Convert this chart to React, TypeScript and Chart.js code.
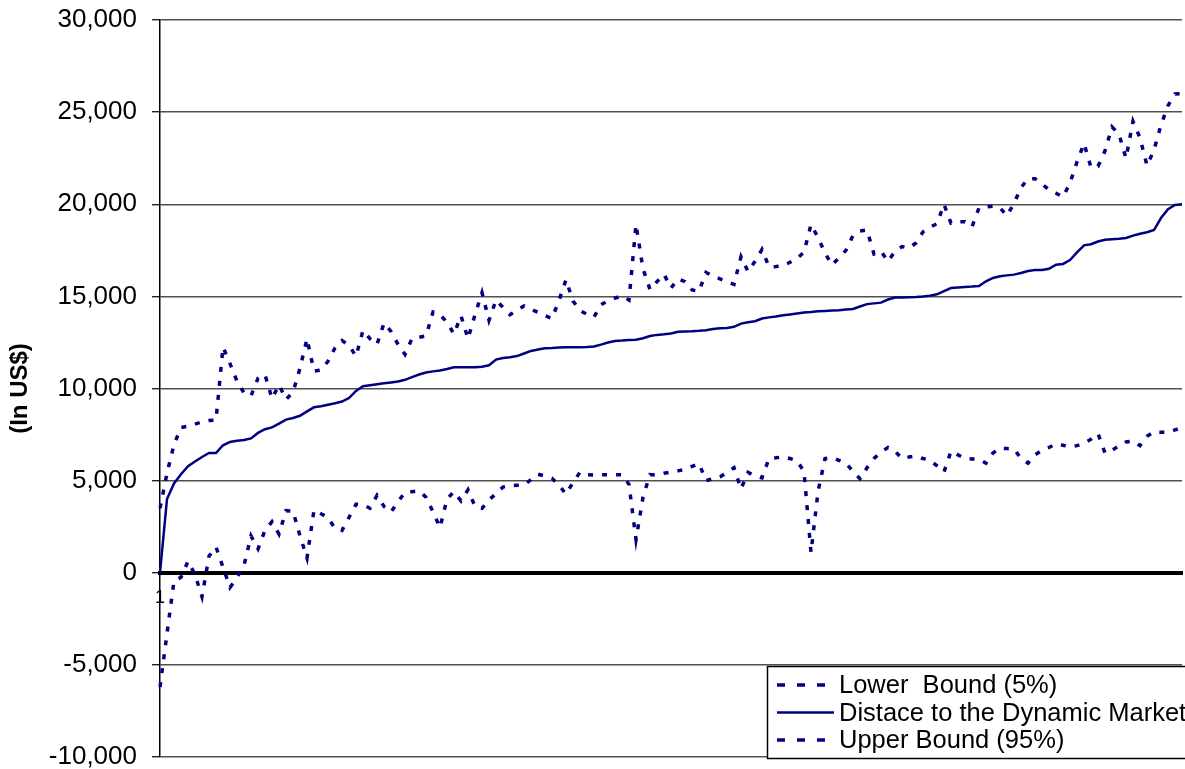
import React, { useEffect, useRef } from "react";
import { Chart, registerables } from "chart.js";

Chart.register(...registerables);

const FONT = '"Liberation Sans", Arial, Helvetica, sans-serif';
const NAVY = "#000080";

const seriesLabels = ["Lower  Bound (5%)", "Distace to the Dynamic Market", "Upper Bound (95%)"];
const yAxisTitle = "(In US$)";
const yMin = -10000;
const yMax = 30000;
const yStep = 5000;

const lowerBound = [
  -6200, -3300, -450, -250, 620, -100, -1300, 900, 1400, 300,
  -800, -250, 400, 2000, 1300, 2300, 2770, 2100, 3370, 3350,
  2000, 800, 3400, 3200, 3000, 2400, 2300, 3000, 3720, 3700,
  3500, 4200, 3600, 3300, 3850, 4370, 4400, 4440, 4100, 3300,
  2450, 4000, 4400, 3900, 4500, 3600, 3500, 3950, 4300, 4650,
  4730, 4750, 4760, 5050, 5350, 5250, 5130, 4750, 4270, 4900,
  5450, 5320, 5300, 5320, 5320, 5320, 5320, 4800, 1800, 4100,
  5330, 5300, 5400, 5460, 5530, 5600, 5770, 5930, 5000, 5100,
  5200, 5450, 5700, 4550, 5450, 5250, 5150, 6200, 6240, 6290,
  6200, 6080, 5500, 1100, 4400, 6200, 6250, 6100, 5950, 5500,
  5100, 5700, 6200, 6550, 6800, 6600, 6200, 6280, 6340, 6200,
  6110, 5800, 5470, 6600, 6400, 6200, 6180, 6150, 5950, 6500,
  6760, 6740, 6720, 6200, 5950, 6400, 6650, 6800, 6990, 6920,
  6830, 6900, 7030, 7250, 7550, 6500, 6650, 6880, 7100, 7150,
  6900, 7400, 7650, 7620, 7620, 7750, 7880,
];

const distance = [
  0, 4000, 4850, 5350, 5780, 6040, 6280, 6500, 6500, 6920,
  7100, 7160, 7210, 7290, 7590, 7790, 7890, 8090, 8310, 8400,
  8520, 8760, 8980, 9040, 9120, 9200, 9290, 9480, 9870, 10120,
  10180, 10230, 10280, 10330, 10380, 10470, 10620, 10760, 10870, 10930,
  10980, 11060, 11150, 11150, 11150, 11150, 11180, 11260, 11570, 11650,
  11700, 11760, 11900, 12040, 12120, 12180, 12200, 12230, 12235, 12240,
  12245, 12250, 12280, 12380, 12500, 12580, 12600, 12630, 12650, 12730,
  12850, 12910, 12940, 12990, 13080, 13100, 13110, 13130, 13160, 13230,
  13270, 13290, 13350, 13520, 13600, 13650, 13800, 13860, 13910, 13970,
  14020, 14070, 14120, 14150, 14190, 14210, 14230, 14250, 14290, 14320,
  14450, 14580, 14620, 14660, 14830, 14935, 14945, 14955, 14965, 14990,
  15040, 15110, 15290, 15450, 15480, 15510, 15530, 15560, 15820, 16000,
  16090, 16140, 16180, 16270, 16380, 16430, 16430, 16500, 16720, 16760,
  16970, 17390, 17770, 17830, 17980, 18070, 18100, 18130, 18170, 18300,
  18400, 18480, 18600, 19250, 19730, 19960, 20000,
];

const upperBound = [
  3500, 5400, 6950, 7880, 7950, 8070, 8180, 8260, 8280, 12250,
  11350, 10400, 9750, 9600, 10550, 10750, 9450, 10200, 9400, 9800,
  11100, 12700, 10950, 11000, 11480, 12200, 12600, 12350, 11750, 13150,
  12700, 12390, 13550, 13100, 12400, 11850, 12720, 12780, 12850, 14150,
  14000, 13600, 12950, 13950, 12700, 14000, 15200, 13700, 14800, 14400,
  14000, 14250, 14480, 14300, 14130, 13950, 13800, 14780, 15900, 14750,
  14220, 14030, 13880, 14550, 14750, 14900, 15030, 14800, 18900, 16500,
  15370, 15800, 16200, 15450, 15950, 15800, 15350, 15270, 16300, 16100,
  15950, 15800, 15650, 17150, 16350, 16900, 17550, 16600, 16620, 16650,
  16850, 17050, 17400, 18900, 18200, 17350, 16700, 17100, 17500, 18300,
  18550, 18600, 17300, 17450, 16900, 17450, 17700, 17620, 17900, 18500,
  18750, 18950, 20000, 18970, 19050, 19050, 18780, 19800, 19850, 19900,
  19800, 19380, 20050, 20900, 21390, 21390, 21100, 20780, 20600, 20400,
  21150, 22300, 23300, 22000, 22050, 22900, 24200, 23800, 22500, 24500,
  23600, 22100, 22950, 24300, 25350, 25980, 26000,
];

const categories = distance.map((_, i) => String(i + 1));
const shownCategory = "1";

const boxLegend = {
  id: "boxLegend",
  afterDraw(chart: any) {
    const ctx = chart.ctx as CanvasRenderingContext2D;
    const x0 = 767;
    const y0 = 666;
    const w = 460;
    const h = 92;
    ctx.save();
    ctx.fillStyle = "#ffffff";
    ctx.fillRect(x0, y0, w, h);
    ctx.strokeStyle = "#000000";
    ctx.lineWidth = 1.5;
    ctx.strokeRect(x0 + 0.5, y0 + 0.5, w, h);
    chart.data.datasets.forEach((ds: any, i: number) => {
      const y = 685 + i * 27.5;
      ctx.beginPath();
      ctx.setLineDash(ds.borderDash ? [8, 12] : []);
      ctx.lineWidth = ds.borderWidth;
      ctx.strokeStyle = ds.borderColor;
      ctx.moveTo(777, y);
      ctx.lineTo(834, y);
      ctx.stroke();
      ctx.setLineDash([]);
      ctx.fillStyle = "#000000";
      ctx.font = `25.5px ${FONT}`;
      ctx.textBaseline = "middle";
      ctx.textAlign = "left";
      ctx.fillText(ds.label, 839, y + 1);
    });
    ctx.restore();
  },
};

export default function App() {
  const canvasRef = useRef<HTMLCanvasElement | null>(null);

  useEffect(() => {
    document.body.style.margin = "0";
    const canvas = canvasRef.current;
    if (!canvas) return;
    const dashed = [5, 9];
    const chart = new Chart(canvas, {
      type: "line",
      data: {
        labels: categories,
        datasets: [
          {
            label: seriesLabels[0],
            data: lowerBound,
            borderColor: NAVY,
            borderWidth: 3.5,
            borderDash: dashed,
            pointRadius: 0,
            tension: 0,
            fill: false,
          },
          {
            label: seriesLabels[1],
            data: distance,
            borderColor: NAVY,
            borderWidth: 2.5,
            pointRadius: 0,
            tension: 0,
            fill: false,
          },
          {
            label: seriesLabels[2],
            data: upperBound,
            borderColor: NAVY,
            borderWidth: 3.5,
            borderDash: dashed,
            pointRadius: 0,
            tension: 0,
            fill: false,
          },
        ],
      },
      options: {
        responsive: false,
        animation: false,
        events: [],
        layout: { padding: { top: 20, right: 3, bottom: 12, left: 0 } },
        plugins: {
          legend: { display: false },
          tooltip: { enabled: false },
          title: { display: false },
        },
        scales: {
          x: {
            type: "category",
            position: { y: 0 } as any,
            offset: false,
            grid: { display: false, drawTicks: false },
            border: { display: true, color: "#000000", width: 4 },
            ticks: {
              autoSkip: false,
              maxRotation: 0,
              minRotation: 0,
              padding: 14,
              color: "#000000",
              font: { family: FONT, size: 18 },
              callback: (_v: any, idx: number) => (idx === 0 ? shownCategory : ""),
            },
            afterFit: (scale: any) => {
              scale.paddingLeft = 0;
              scale.paddingRight = 0;
            },
          },
          y: {
            min: yMin,
            max: yMax,
            ticks: {
              stepSize: yStep,
              padding: 15,
              color: "#000000",
              font: { family: FONT, size: 26 },
              callback: (v: any) => Number(v).toLocaleString("en-US"),
            },
            grid: {
              color: "#505050",
              lineWidth: 1.4,
              tickLength: 8,
              tickColor: "#222222",
            },
            border: { display: true, color: "#000000", width: 1.5 },
            title: {
              display: true,
              text: yAxisTitle,
              color: "#000000",
              font: { family: FONT, size: 24, weight: "bold" },
              padding: { top: 6, bottom: 0 },
            },
            afterFit: (scale: any) => {
              scale.width = 160;
              scale.paddingTop = 0;
              scale.paddingBottom = 0;
            },
          },
        },
      },
      plugins: [boxLegend],
    });
    return () => chart.destroy();
  }, []);

  return (
    <div style={{ width: 1185, height: 769, overflow: "hidden", background: "#fff" }}>
      <canvas ref={canvasRef} width={1185} height={769} />
    </div>
  );
}
